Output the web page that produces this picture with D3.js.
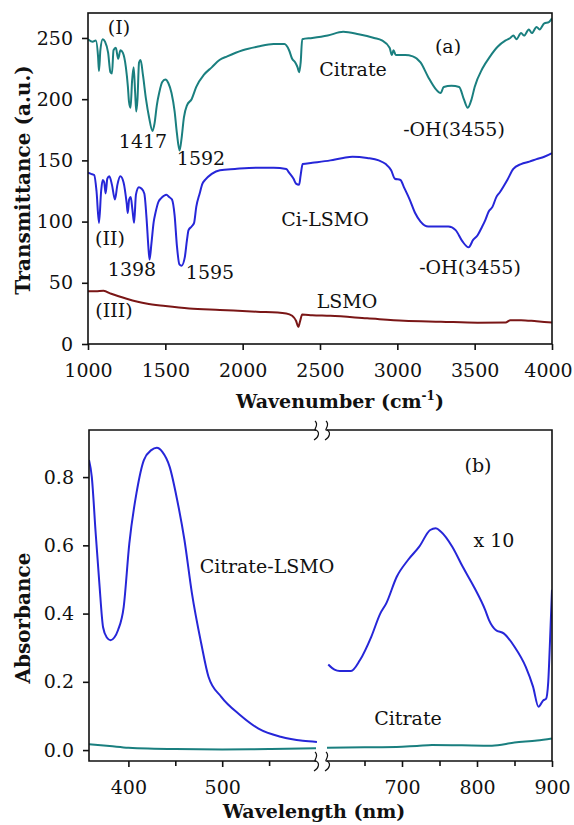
<!DOCTYPE html>
<html><head><meta charset="utf-8">
<script src="https://cdn.jsdelivr.net/npm/d3@7"></script>
<style>
body{margin:0;background:#fff;}
svg{display:block;}
text{font-family:"DejaVu Serif",serif;fill:#111;}
</style></head>
<body><div id="chart"></div>
<script>
// ---------- Panel (a): FTIR ----------
const wnTicks = [1000,1500,2000,2500,3000,3500,4000];
const tTicks = [0,50,100,150,200,250];

const citrateWn = [1000,1030,1050,1065,1071,1080,1095,1110,1130,1145,1155,1165,1180,1195,1210,1225,1245,1258,1265,1275,1285,1295,1305,1312,1320,1330,1340,1355,1375,1395,1417,1430,1445,1460,1480,1500,1520,1540,1560,1575,1592,1605,1620,1640,1670,1700,1750,1800,1850,1900,2000,2100,2200,2270,2300,2320,2340,2355,2365,2375,2385,2450,2550,2650,2750,2850,2900,2950,2965,2975,2990,3000,3050,3100,3150,3200,3250,3280,3300,3350,3400,3430,3455,3480,3500,3550,3600,3650,3700,3730,3750,3770,3800,3820,3850,3870,3900,3920,3950,3980,4000];
const citrateT  = [249,247,248,235,223,240,249,247,238,222,221,240,242,233,240,238,226,210,198,193,215,226,205,190,200,230,232,220,200,185,174,180,195,205,214,216,213,205,190,172,158,168,185,195,200,210,220,226,232,235,240,243,245,245,240,233,230,226,222,230,249,250,252,255,253,250,248,242,236,240,236,236,236,235,230,218,208,205,210,211,210,200,193,200,210,225,235,243,248,250,252,249,254,252,257,254,259,257,262,263,266];

const cilsmoWn = [1000,1020,1040,1055,1071,1085,1095,1105,1114,1125,1138,1155,1174,1190,1209,1230,1250,1257,1266,1276,1287,1298,1310,1329,1345,1364,1380,1390,1398,1410,1425,1436,1455,1472,1490,1507,1525,1543,1560,1575,1591,1605,1626,1640,1650,1670,1686,1700,1722,1740,1757,1800,1853,1950,2091,2200,2282,2300,2329,2345,2365,2375,2388,2450,2567,2650,2710,2805,2880,2925,2960,2984,3020,3043,3080,3115,3150,3200,3234,3280,3330,3377,3420,3461,3490,3520,3545,3568,3590,3615,3640,3663,3711,3750,3800,3854,3900,3950,4000];
const cilsmoT  = [140,139,138,125,99,125,134,132,123,135,137,130,118,130,137,132,115,107,118,120,110,99,122,128,127,123,100,80,69,82,100,107,116,119,121,122,120,118,105,80,65,64,71,85,93,96,99,112,123,131,134,139,142,143,144,144,143,140,135,131,130,138,147,148,150,152,153,152,150,147,142,135,134,128,118,107,100,96,96,96,96,93,84,79,85,89,95,101,108,112,120,124,134,143,147,149,151,153,156];

const lsmoWn = [1000,1050,1100,1150,1250,1376,1500,1654,1853,2091,2282,2320,2345,2360,2370,2385,2450,2567,2805,3043,3282,3520,3700,3730,3800,3900,4000];
const lsmoT  = [43,43,43.5,41,37,33,31,29,27.8,26.4,25,23,19,14,18,24,23.5,23,21,19,18.2,17.4,17.5,19.5,19.5,18.5,17.5];

// ---------- Panel (b): UV-vis ----------
const nmTicksLeft = [400,500];
const nmMinorLeft = [450,550];
const nmTicksRight = [700,800,900];
const nmMinorRight = [650,750,850];
const absTicks = [0.0,0.2,0.4,0.6,0.8];

const ciLsmoNmL = [358,361,365,369,373,377,381,385,389,395,401,408.6,416.5,424.4,430.3,436.2,444,452,459.8,467.7,477.6,485.4,499,519,538.7,562.3,586,601];
const ciLsmoAbsL = [0.85,0.80,0.64,0.49,0.36,0.33,0.322,0.33,0.352,0.42,0.606,0.753,0.85,0.879,0.886,0.874,0.83,0.733,0.615,0.46,0.313,0.215,0.156,0.103,0.063,0.039,0.027,0.024];
const ciLsmoNmR = [601.7,610,617,632,644,659,671,679,693,708,723,737.6,745,752,767,781,796,811,816,825,835.6,850,865,874.7,882,888.5,892,895,897,900];
const ciLsmoAbsR = [0.251,0.236,0.232,0.232,0.264,0.332,0.4,0.43,0.508,0.557,0.596,0.645,0.65,0.64,0.596,0.537,0.478,0.41,0.381,0.352,0.342,0.303,0.244,0.186,0.127,0.146,0.15,0.2,0.3,0.47];
const citrateNmL = [358,380,400,450,500,550,600];
const citrateAbsL = [0.017,0.012,0.007,0.003,0.002,0.003,0.005];
const citrateNmR = [600,650,700,720,740,780,820,850,880,900];
const citrateAbsR = [0.007,0.008,0.010,0.012,0.015,0.014,0.013,0.022,0.028,0.034];

const W = 574, H = 825;
const teal = "#1a7f7f", blue = "#2626d8", red = "#7a1616";
const FS = 19;

const svg = d3.select("#chart").append("svg").attr("width", W).attr("height", H);

// ===== Panel (a) =====
const ax = {l:88, r:552, t:13, b:344};
const x1 = d3.scaleLinear().domain([1000,4000]).range([ax.l, ax.r]);
const y1 = d3.scaleLinear().domain([0,270.4]).range([ax.b, ax.t]);

const gA = svg.append("g");
svg.append("clipPath").attr("id","clipA").append("rect")
  .attr("x",ax.l).attr("y",ax.t).attr("width",ax.r-ax.l).attr("height",ax.b-ax.t);

const lineA = d3.line().x(d=>x1(d[0])).y(d=>y1(d[1])).curve(d3.curveMonotoneX);
const seriesA = [
  [citrateWn, citrateT, teal],
  [cilsmoWn, cilsmoT, blue],
  [lsmoWn, lsmoT, red]
];
seriesA.forEach(([xs, ys, c]) => {
  gA.append("path").datum(xs.map((v,i)=>[v, ys[i]]))
    .attr("d", lineA).attr("fill","none").attr("stroke",c)
    .attr("stroke-width",2).attr("clip-path","url(#clipA)");
});

gA.append("rect").attr("x",ax.l).attr("y",ax.t).attr("width",ax.r-ax.l).attr("height",ax.b-ax.t)
  .attr("fill","none").attr("stroke","#111").attr("stroke-width",1.6);

const xAxA = gA.append("g").attr("transform",`translate(0,${ax.b})`)
  .call(d3.axisBottom(x1).tickValues(wnTicks).tickSize(6).tickPadding(14).tickFormat(d3.format("d")));
const yAxA = gA.append("g").attr("transform",`translate(${ax.l},0)`)
  .call(d3.axisLeft(y1).tickValues(tTicks).tickSize(6).tickPadding(9).tickFormat(d3.format("d")));
[xAxA, yAxA].forEach(g => {
  g.select(".domain").remove();
  g.selectAll("line").attr("stroke","#111").attr("stroke-width",1.6);
  g.selectAll("text").attr("font-size",FS).attr("font-family","DejaVu Serif").attr("fill","#111");
});
// keep the last tick label inside the page
xAxA.selectAll(".tick text").filter(d => d === 4000).attr("dx", -4);

function label(g, txt, x, y, opts={}) {
  return g.append("text").attr("x",x).attr("y",y).attr("text-anchor",opts.anchor||"middle")
    .attr("font-size",opts.size||FS).attr("font-weight",opts.weight||"normal")
    .attr("dominant-baseline","middle").text(txt);
}
label(gA,"(I)",119,29);
label(gA,"(a)",448,48);
label(gA,"Citrate",353,71);
label(gA,"1417",143,143);
label(gA,"1592",201,160);
label(gA,"-OH(3455)",454,131);
label(gA,"Ci-LSMO",325,221);
label(gA,"(II)",110,240);
label(gA,"1398",132,271);
label(gA,"1595",210,274);
label(gA,"-OH(3455)",470,269);
label(gA,"LSMO",347,303);
label(gA,"(III)",114,312);

// axis titles (a)
const tA = gA.append("text").attr("x",340).attr("y",408).attr("text-anchor","middle")
  .attr("font-size",FS).attr("font-weight","bold");
tA.append("tspan").text("Wavenumber (cm");
tA.append("tspan").attr("font-size",12).attr("dy",-8).text("-1");
tA.append("tspan").attr("dy",8).text(")");
gA.append("text").attr("transform","translate(30,180) rotate(-90)").attr("text-anchor","middle")
  .attr("font-size",20).attr("font-weight","bold").text("Transmittance (a.u.)");

// ===== Panel (b) =====
const bx = {l:89, r:552, t:430, b:761, bl:316, br:327};
const xL = d3.scaleLinear().domain([358,600]).range([bx.l, bx.bl]);
const xR = d3.scaleLinear().domain([600,900]).range([bx.br, bx.r]);
const y2 = d3.scaleLinear().domain([-0.032,0.938]).range([bx.b, bx.t]);

const gB = svg.append("g");
svg.append("clipPath").attr("id","clipB").append("rect")
  .attr("x",bx.l).attr("y",bx.t).attr("width",bx.r-bx.l).attr("height",bx.b-bx.t);

function lineB(xs){ return d3.line().x(d=>xs(d[0])).y(d=>y2(d[1])).curve(d3.curveMonotoneX); }
const seriesB = [
  [citrateNmL, citrateAbsL, xL, teal],
  [citrateNmR, citrateAbsR, xR, teal],
  [ciLsmoNmL, ciLsmoAbsL, xL, blue],
  [ciLsmoNmR, ciLsmoAbsR, xR, blue]
];
seriesB.forEach(([xs, ys, sc, c]) => {
  gB.append("path").datum(xs.map((v,i)=>[v, ys[i]]))
    .attr("d", lineB(sc)).attr("fill","none").attr("stroke",c)
    .attr("stroke-width",2).attr("clip-path","url(#clipB)");
});

// frame with breaks
const fr = gB.append("g").attr("stroke","#111").attr("stroke-width",1.6).attr("fill","none");
fr.append("path").attr("d",`M${bx.bl},${bx.t}H${bx.l}V${bx.b}H${bx.bl}`);
fr.append("path").attr("d",`M${bx.br},${bx.t}H${bx.r}V${bx.b}H${bx.br}`);
// break marks
[bx.t, bx.b].forEach(yy => {
  [bx.bl, bx.br].forEach(xx => {
    fr.append("path").attr("stroke-width",1.2)
      .attr("d",`M${xx-1},${yy-9} C${xx+4},${yy-5} ${xx-4},${yy+1} ${xx},${yy} C${xx+4},${yy+2} ${xx+3},${yy+7} ${xx-2},${yy+10}`);
  });
});

function tickAxis(sc, major, minor) {
  const g = gB.append("g").attr("transform",`translate(0,${bx.b})`);
  g.call(d3.axisBottom(sc).tickValues(major).tickSize(6).tickPadding(14).tickFormat(d3.format("d")));
  g.select(".domain").remove();
  g.selectAll("line").attr("stroke","#111").attr("stroke-width",1.6);
  g.selectAll("text").attr("font-size",FS).attr("font-family","DejaVu Serif").attr("fill","#111");
  const g2 = gB.append("g").attr("transform",`translate(0,${bx.b})`);
  g2.call(d3.axisBottom(sc).tickValues(minor).tickSize(5).tickFormat(""));
  g2.select(".domain").remove();
  g2.selectAll("line").attr("stroke","#111").attr("stroke-width",1.6);
}
tickAxis(xL, nmTicksLeft, nmMinorLeft);
tickAxis(xR, nmTicksRight, nmMinorRight);

const yAxB = gB.append("g").attr("transform",`translate(${bx.l},0)`)
  .call(d3.axisLeft(y2).tickValues(absTicks).tickSize(6).tickPadding(9).tickFormat(d3.format(".1f")));
yAxB.select(".domain").remove();
yAxB.selectAll("line").attr("stroke","#111").attr("stroke-width",1.6);
yAxB.selectAll("text").attr("font-size",FS).attr("font-family","DejaVu Serif").attr("fill","#111");

label(gB,"(b)",478,467);
label(gB,"x 10",494,542);
label(gB,"Citrate-LSMO",267,568);
label(gB,"Citrate",408,720);

gB.append("text").attr("x",314).attr("y",818).attr("text-anchor","middle")
  .attr("font-size",FS).attr("font-weight","bold").text("Wavelength (nm)");
gB.append("text").attr("transform","translate(30,618) rotate(-90)").attr("text-anchor","middle")
  .attr("font-size",20).attr("font-weight","bold").text("Absorbance");
</script></body></html>
